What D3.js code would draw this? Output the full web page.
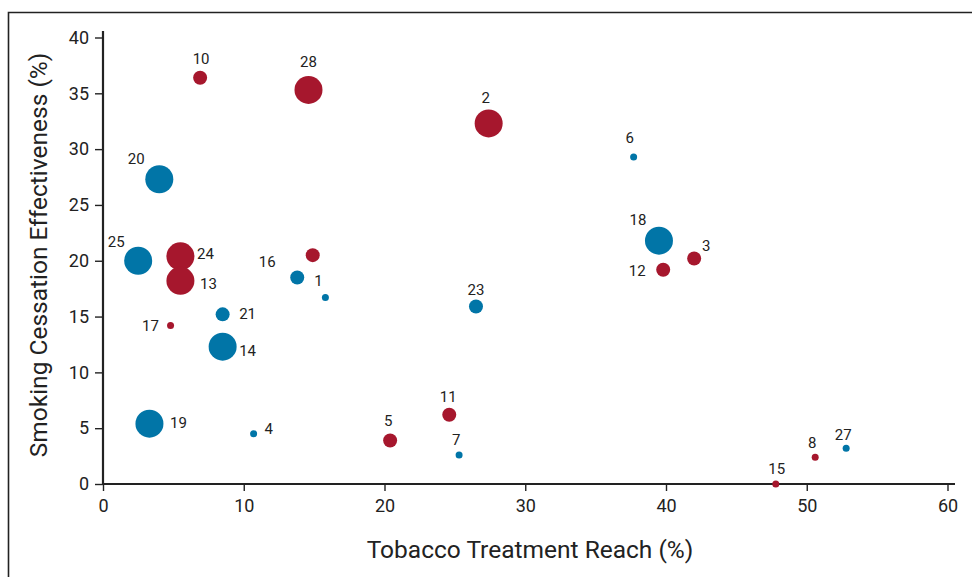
<!DOCTYPE html>
<html>
<head>
<meta charset="utf-8">
<script src="https://cdn.jsdelivr.net/npm/d3@7"></script>
<style>
  body { margin: 0; background: #fff; }
  svg { display: block; font-family: Roboto, "Liberation Sans", sans-serif; }
  .tick text { fill: #222; }
</style>
</head>
<body>
<svg id="chart" width="972" height="577"></svg>
<script>
// program ids (label shown next to each bubble, "" = unlabeled)
const ids = ["10", "28", "2", "6", "20", "18", "3", "12", "25", "24", "13", "", "16", "1",
  "21", "17", "14", "23", "19", "4", "5", "11", "7", "15", "8", "27"];
// tobacco treatment reach (%)
const reach = [6.9, 14.6, 27.4, 37.7, 4.0, 39.5, 42.0, 39.8, 2.5, 5.5, 5.5, 14.9, 13.8, 15.8,
  8.5, 4.8, 8.5, 26.5, 3.3, 10.7, 20.4, 24.6, 25.3, 47.8, 50.6, 52.8];
// smoking cessation effectiveness (%)
const effect = [36.4, 35.3, 32.3, 29.3, 27.3, 21.8, 20.2, 19.2, 20.0, 20.4, 18.2, 20.5, 18.5, 16.7,
  15.2, 14.2, 12.3, 15.9, 5.4, 4.5, 3.9, 6.2, 2.6, 0.0, 2.4, 3.2];
// bubble size class (1 small, 4 medium, 16 large)
const sizeClass = [4, 16, 16, 1, 16, 16, 4, 4, 16, 16, 16, 4, 4, 1,
  4, 1, 16, 4, 16, 1, 4, 4, 1, 1, 1, 1];
// group: "r" red, "b" blue
const group = ["r", "r", "r", "b", "b", "b", "r", "r", "b", "r", "r", "r", "b", "b",
  "b", "r", "b", "b", "b", "b", "r", "r", "b", "r", "r", "b"];

const xTicks = [0, 10, 20, 30, 40, 50, 60];
const yTicks = [0, 5, 10, 15, 20, 25, 30, 35, 40];

// label placement relative to bubble centre
const labelPos = {
  "10": [1, -19], "28": [0, -28], "2": [-3, -26], "6": [-4, -19], "20": [-23, -21],
  "18": [-21, -21], "3": [12, -13], "12": [-26, 1], "25": [-22, -19], "24": [25, -3],
  "13": [28, 3], "16": [-30, -16], "1": [-7, -17], "21": [25, -1], "17": [-20, 0],
  "14": [25, 4], "23": [0, -17], "19": [29, -1], "4": [15, -5], "5": [-2, -20],
  "11": [-1, -18], "7": [-3, -15], "15": [1, -15], "8": [-3, -14], "27": [-3, -14]
};

const colors = { r: "#a6172d", b: "#0175a7" };

const svg = d3.select("#chart");
const x = d3.scaleLinear().domain([0, 60]).range([103, 947.5]);
const y = d3.scaleLinear().domain([0, 40]).range([484, 37.5]);
const r = d3.scaleSqrt().domain([0, 16]).range([0, 14]);

// frame
svg.append("path")
  .attr("d", "M8.5,577 V12.5 H972")
  .attr("fill", "none").attr("stroke", "#222").attr("stroke-width", 1.6);

// axes
const xAxis = svg.append("g").attr("transform", "translate(0,484)")
  .call(d3.axisBottom(x).tickValues(xTicks).tickSize(7).tickPadding(8));
xAxis.select(".domain").attr("d", "M103,0H955").attr("stroke-width", 2.2).attr("stroke", "#222");
const yAxis = svg.append("g").attr("transform", "translate(103,0)")
  .call(d3.axisLeft(y).tickValues(yTicks).tickSize(8).tickPadding(6));
yAxis.select(".domain").attr("d", "M0,484V31").attr("stroke-width", 2.2).attr("stroke", "#222");
svg.selectAll(".tick line").attr("stroke", "#222").attr("stroke-width", 1.4);
svg.selectAll(".tick text").attr("font-size", 18).attr("font-family", "Roboto, sans-serif");

// axis titles
svg.append("text").attr("x", 530).attr("y", 558).attr("text-anchor", "middle")
  .attr("font-size", 24.5).attr("fill", "#222").text("Tobacco Treatment Reach (%)");
svg.append("text").attr("transform", "translate(47,255) rotate(-90)").attr("text-anchor", "middle")
  .attr("font-size", 24.5).attr("fill", "#222").text("Smoking Cessation Effectiveness (%)");

const pts = ids.map((id, i) => ({ id, x: reach[i], y: effect[i], s: sizeClass[i], g: group[i] }));

svg.append("g").selectAll("circle").data(pts).join("circle")
  .attr("cx", d => x(d.x)).attr("cy", d => y(d.y)).attr("r", d => r(d.s))
  .attr("fill", d => colors[d.g]);

svg.append("g").selectAll("text").data(pts.filter(d => d.id !== "")).join("text")
  .attr("x", d => x(d.x) + labelPos[d.id][0])
  .attr("y", d => y(d.y) + labelPos[d.id][1])
  .attr("dy", "0.35em").attr("text-anchor", "middle")
  .attr("font-size", 15).attr("fill", "#222").text(d => d.id);
</script>
</body>
</html>
